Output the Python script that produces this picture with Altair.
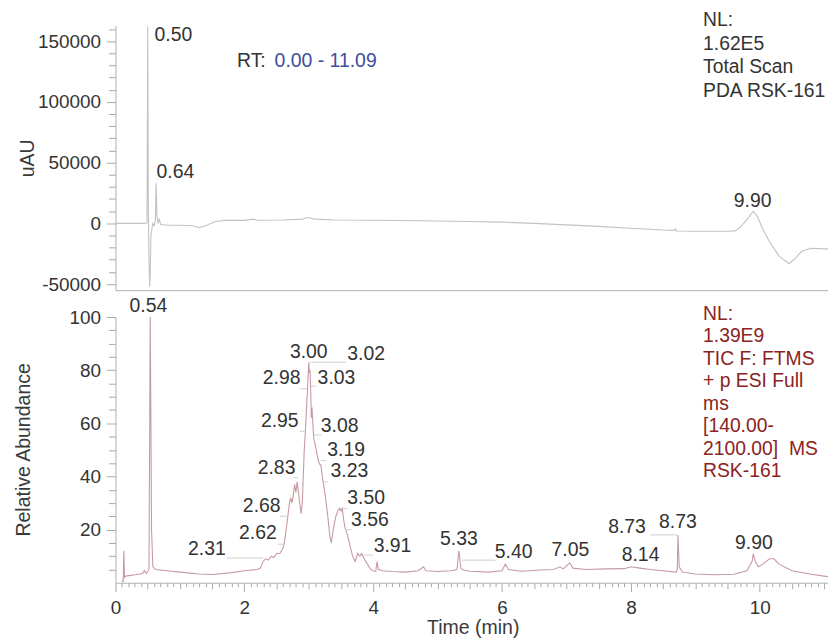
import altair as alt
import pandas as pd

FONT = "Liberation Sans"
TXT = "#333333"

# ---------------- PDA trace (top) ----------------
pda_time = [0.00, 0.30, 0.47, 0.49, 0.50, 0.51, 0.52, 0.53, 0.54, 0.55, 0.58, 0.60, 0.62, 0.63,
            0.645, 0.66, 0.68, 0.70, 0.80, 1.00, 1.20, 1.30, 1.40, 1.55, 1.70, 2.00, 2.14, 2.20,
            2.60, 2.90, 2.97, 3.10, 3.40, 4.00, 4.40, 5.00, 5.50, 6.00, 6.50, 7.00, 7.50, 8.00,
            8.50, 8.68, 8.69, 8.71, 9.00, 9.50, 9.62, 9.70, 9.80, 9.90, 9.96, 10.05, 10.15,
            10.30, 10.45, 10.55, 10.65, 10.80, 11.00, 11.09]
pda_value = [0, 0, 0, 500, 162000, 10000, -30000, -52000, -40000, -10000, 0, -2000, 2000, 33000,
             5000, 0, 4000, -1000, -1500, -1500, -2000, -3500, -2000, 1500, 2500, 2500, 3500, 2600,
             2800, 3500, 4800, 3500, 2800, 2600, 2400, 2000, 1500, 1000, 0, -1200, -2500, -4000,
             -5500, -5800, -4500, -6300, -6500, -6500, -6200, -3000, 3000, 10000, 6000, -5000, -15000,
             -27000, -33000, -29000, -23000, -20500, -21000, -21000]

# ---------------- TIC trace (bottom) ----------------
tic_time = [0.10, 0.12, 0.13, 0.14, 0.16, 0.30, 0.42, 0.45, 0.48, 0.52, 0.54, 0.56, 0.58, 0.62,
            0.80, 1.00, 1.30, 1.50, 1.80, 2.00, 2.20, 2.25, 2.29, 2.33, 2.37, 2.42, 2.46, 2.50,
            2.55, 2.60, 2.62, 2.65, 2.68, 2.70, 2.72, 2.74, 2.76, 2.78, 2.80, 2.82, 2.83, 2.85,
            2.88, 2.90, 2.93, 2.95, 2.97, 2.98, 2.99, 3.00, 3.01, 3.02, 3.03, 3.04, 3.05, 3.07,
            3.08, 3.10, 3.13, 3.16, 3.19, 3.21, 3.23, 3.26, 3.30, 3.33, 3.35, 3.38, 3.42, 3.45,
            3.48, 3.50, 3.52, 3.54, 3.56, 3.60, 3.64, 3.68, 3.72, 3.76, 3.79, 3.82, 3.86, 3.91,
            3.96, 4.00, 4.04, 4.06, 4.08, 4.15, 4.30, 4.50, 4.70, 4.78, 4.82, 5.00, 5.20, 5.30,
            5.33, 5.36, 5.40, 5.50, 5.80, 6.00, 6.05, 6.10, 6.30, 6.60, 6.80, 6.90, 6.95, 7.05,
            7.10, 7.30, 7.60, 7.90, 8.00, 8.14, 8.30, 8.50, 8.70, 8.72, 8.73, 8.75, 8.80, 9.00,
            9.30, 9.60, 9.80, 9.88, 9.90, 9.93, 9.98, 10.05, 10.15, 10.22, 10.30, 10.50, 10.80,
            11.00, 11.09]
tic_value = [0.5, 0.5, 12, 2, 2.5, 3, 3.5, 4.5, 3.5, 5, 100, 20, 6, 5,
             4.5, 4, 3.3, 3.1, 3.8, 4.5, 5, 5.5, 8, 9, 8.5, 10, 9.5, 11,
             11, 13, 15, 20, 26, 30, 32, 30, 33, 37, 34, 38, 36, 32,
             26, 30, 50, 58, 68, 72, 78, 83, 79, 80, 72, 62, 66, 57,
             54, 52, 48, 45, 44, 40, 37, 32, 24, 17, 15, 20, 25, 27,
             28, 27, 28, 24, 21, 18, 14, 10, 8, 11, 10, 11, 9, 7,
             5, 4.5, 4.3, 8, 5, 4.5, 4.2, 4, 4.5, 6, 4.5, 4.2, 4.5, 5,
             12, 5.5, 4.8, 4.3, 4, 4.5, 7, 5, 4.3, 4.8, 5, 6, 5.2, 7.5,
             5.5, 5, 5.2, 5.3, 6, 5.5, 5, 4.5, 4, 5, 18, 6, 4, 3.3,
             3, 3.2, 4.5, 8, 11, 8, 6, 7, 9, 9, 7, 4.5, 3.2,
             2.5, 2.2]

# ---------------- peak labels ----------------
pda_label_text = ["0.50", "0.64", "9.90"]
pda_label_x = [0.90, 0.93, 9.89]
pda_label_y = [155500, 42500, 18800]

tic_label_text = ["0.54", "3.00", "3.02", "2.98", "3.03", "2.95", "3.08", "3.19", "3.23", "2.83",
                  "2.68", "2.62", "2.31", "3.50", "3.56", "3.91", "5.33", "5.40", "7.05", "8.73",
                  "8.73", "8.14", "9.90"]
tic_label_x = [0.51, 3.00, 3.89, 2.58, 3.43, 2.55, 3.48, 3.58, 3.63, 2.50,
               2.27, 2.21, 1.42, 3.89, 3.95, 4.30, 5.33, 6.18, 7.06, 7.94,
               8.73, 8.15, 9.91]
tic_label_y = [104, 87, 86, 77, 77, 61, 59, 50, 42, 43,
               29, 18.7, 12.7, 32, 23.5, 13.8, 16.4, 11.6, 12.3, 21,
               22.8, 10.4, 15]

# connector lines (label -> peak)
conn_x1 = [3.02, 2.86, 3.03, 2.86, 3.08, 3.19, 3.23, 2.76, 2.55, 2.52, 1.73, 3.50, 3.56, 3.85, 5.38, 8.30]
conn_x2 = [3.58, 2.97, 3.12, 2.94, 3.20, 3.26, 3.30, 2.83, 2.68, 2.62, 2.29, 3.60, 3.66, 4.00, 5.90, 8.72]
conn_y = [83, 73, 74, 57, 55.6, 46, 38, 39.5, 25, 14.5, 9.3, 28, 20, 10.4, 8.5, 18]

pda_nl_lines = ["NL:", "1.62E5", "Total Scan", "PDA RSK-161"]
tic_nl_lines = ["NL:", "1.39E9", "TIC F: FTMS", "+ p ESI Full", "ms", "[140.00-",
                "2100.00]\u00a0 MS", "RSK-161"]
nl_x = [9.12]
pda_nl_y = [174800]
tic_nl_y = [104.6]
rt_x = [1.886, 2.47]
rt_y = [133400, 133400]
rt_text = ["RT:", "0.00 - 11.09"]

X_DOMAIN = [0, 11.09]
x_vals = [round(i / 10, 1) for i in range(0, 111)]
pda_ticks = list(range(-50000, 160001, 10000))
tic_ticks = list(range(5, 101, 5))

pda_df = pd.DataFrame({"t": pda_time, "v": pda_value})
tic_df = pd.DataFrame({"t": tic_time, "v": tic_value})

x_major = "abs(datum.value/2 - round(datum.value/2)) < 0.001"
x_half = "abs(datum.value*2 - round(datum.value*2)) < 0.001"

x_scale = alt.Scale(domain=X_DOMAIN, nice=False, zero=False)
x_top_axis = alt.Axis(labels=False, ticks=False, title=None, grid=False)
x_bot_axis = alt.Axis(values=x_vals, grid=False, title="Time (min)", labelOverlap=False,
                      labelExpr=f"{x_major} ? toString(round(datum.value)) : ''",
                      tickSize={"condition": [{"test": x_major, "value": 9},
                                              {"test": x_half, "value": 6}], "value": 4},
                      labelPadding=6.5, titlePadding=2)

y_top_scale = alt.Scale(domain=[-55000, 163000], nice=False, zero=False)
y_bot_scale = alt.Scale(domain=[0, 100], nice=False, zero=False)

y_top_axis = alt.Axis(values=pda_ticks, grid=False, title="uAU", labelOverlap=False,
                      labelExpr="datum.value % 50000 === 0 ? toString(datum.value) : ''",
                      tickSize={"condition": {"test": "datum.value % 50000 === 0", "value": 9},
                                "value": 7},
                      labelPadding=6, titleX=-88, titleY=133, titleAngle=-90,
                      titleBaseline="middle", titleAlign="center")
y_bot_axis = alt.Axis(values=tic_ticks, grid=False, title="Relative Abundance", labelOverlap=False,
                      labelExpr="datum.value % 20 === 0 ? toString(datum.value) : ''",
                      tickSize={"condition": {"test": "datum.value % 20 === 0", "value": 9},
                                "value": 7},
                      labelPadding=6, titleX=-92, titleY=133, titleAngle=-90,
                      titleBaseline="middle", titleAlign="center")


def xt():
    return alt.X("t:Q", scale=x_scale, axis=x_top_axis)


def xb():
    return alt.X("t:Q", scale=x_scale, axis=x_bot_axis)


def yt():
    return alt.Y("v:Q", scale=y_top_scale, axis=y_top_axis)


def yb():
    return alt.Y("v:Q", scale=y_bot_scale, axis=y_bot_axis)


W = 718

# ---- top panel ----
pda_line = alt.Chart(pda_df).mark_line(color="#c2c2c2", strokeWidth=1.1).encode(x=xt(), y=yt())
pda_labels = alt.Chart(pd.DataFrame({"t": pda_label_x, "v": pda_label_y, "s": pda_label_text})).mark_text(
    font=FONT, fontSize=19.5, color=TXT, baseline="middle").encode(x=xt(), y=yt(), text="s:N")
rt_df = pd.DataFrame({"t": rt_x, "v": rt_y, "s": rt_text, "c": ["#333333", "#3d4f9a"]})
rt_marks = alt.Chart(rt_df).mark_text(font=FONT, fontSize=19.5, align="left", baseline="middle").encode(
    x=xt(), y=yt(), text="s:N", color=alt.Color("c:N", scale=None))
pda_nl = alt.Chart(pd.DataFrame({"t": nl_x, "v": pda_nl_y})).mark_text(
    text=pda_nl_lines, font=FONT, fontSize=19.4, color=TXT, align="left", baseline="top",
    lineHeight=23.7).encode(x=xt(), y=yt())

top = alt.layer(pda_line, pda_labels, rt_marks, pda_nl).properties(width=W, height=266)

# ---- bottom panel ----
tic_line = alt.Chart(tic_df).mark_line(color="#c79aa3", strokeWidth=1.1).encode(x=xb(), y=yb())
conn = alt.Chart(pd.DataFrame({"t": conn_x1, "t2": conn_x2, "v": conn_y})).mark_rule(
    color="#cfcfcf", strokeWidth=1).encode(x=xb(), x2="t2:Q", y=yb())
tic_labels = alt.Chart(pd.DataFrame({"t": tic_label_x, "v": tic_label_y, "s": tic_label_text})).mark_text(
    font=FONT, fontSize=19.5, color=TXT, baseline="middle").encode(x=xb(), y=yb(), text="s:N")
tic_nl = alt.Chart(pd.DataFrame({"t": nl_x, "v": tic_nl_y})).mark_text(
    text=tic_nl_lines, font=FONT, fontSize=19.4, color="#8b2323", align="left", baseline="top",
    lineHeight=22.6).encode(x=xb(), y=yb())

bottom = alt.layer(tic_line, conn, tic_labels, tic_nl).properties(width=W, height=267)

chart = alt.vconcat(top, bottom, spacing=27, bounds="flush").properties(
    padding={"left": 5, "top": 0, "right": -5, "bottom": -1}
).configure_view(stroke=None).configure_axis(
    domainColor="#b0b0b0", tickColor="#a8a8a8", labelColor=TXT, titleColor="#3a3a3a",
    labelFont=FONT, titleFont=FONT, labelFontSize=19, titleFontSize=19.6,
    titleFontWeight="normal", labelOverlap=False, labelFlush=False, labelBound=False
)

chart.save("out.html", embed_options={"renderer": "svg", "actions": False})
